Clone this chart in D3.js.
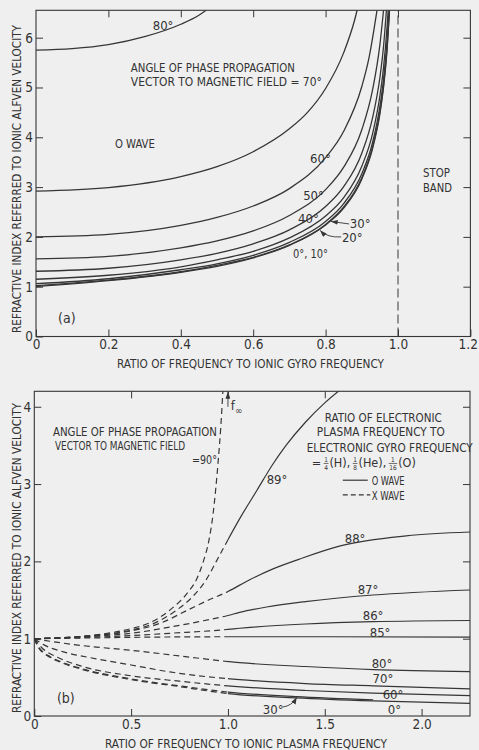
<!DOCTYPE html>
<html>
<head>
<meta charset="utf-8">
<script src="https://cdn.jsdelivr.net/npm/d3@7"></script>
<style>
  html, body { margin: 0; padding: 0; background: #efefef; }
  svg { display: block; }
  text { font-family: "Liberation Sans Narrow", "DejaVu Sans Condensed", "Arial Narrow", sans-serif; fill: #333; }
</style>
</head>
<body>
<svg id="fig" width="479" height="750"></svg>
<script>
// ---------- Panel (a): O wave, refractive index vs f / f_gyro(ion) ----------
const ticksAx = [0, 0.2, 0.4, 0.6, 0.8, 1.0, 1.2];
const ticksAy = [0, 1, 2, 3, 4, 5, 6];
const stopBandAt = 1.0;

const oWave0  = [[0,1.00],[0.2,1.12],[0.4,1.29],[0.5,1.41],[0.6,1.58],[0.7,1.83],[0.8,2.24],[0.85,2.58],[0.9,3.16],[0.93,3.78],[0.95,4.47],[0.96,5.00],[0.97,5.77],[0.977,6.60]];
const oWave10 = [[0,1.02],[0.2,1.13],[0.4,1.30],[0.5,1.43],[0.6,1.59],[0.7,1.84],[0.8,2.25],[0.85,2.60],[0.9,3.19],[0.93,3.81],[0.95,4.51],[0.96,5.04],[0.97,5.82],[0.976,6.50]];
const oWave20 = [[0,1.06],[0.2,1.16],[0.4,1.34],[0.5,1.46],[0.6,1.63],[0.7,1.89],[0.8,2.31],[0.85,2.67],[0.9,3.27],[0.93,3.90],[0.95,4.62],[0.96,5.16],[0.97,5.96],[0.975,6.53]];
const oWave30 = [[0,1.15],[0.2,1.23],[0.4,1.40],[0.5,1.54],[0.6,1.71],[0.7,1.98],[0.8,2.42],[0.85,2.79],[0.9,3.42],[0.93,4.08],[0.95,4.83],[0.96,5.40],[0.97,6.24],[0.973,6.57]];
const oWave40 = [[0,1.31],[0.2,1.37],[0.4,1.54],[0.5,1.67],[0.6,1.86],[0.7,2.14],[0.8,2.61],[0.85,3.01],[0.9,3.68],[0.93,4.40],[0.95,5.20],[0.96,5.82],[0.968,6.55]];
const oWave50 = [[0,1.56],[0.2,1.61],[0.4,1.78],[0.5,1.92],[0.6,2.12],[0.7,2.43],[0.8,2.95],[0.85,3.40],[0.9,4.15],[0.93,4.96],[0.95,5.86],[0.96,6.55]];
const oWave60 = [[0,2.00],[0.2,2.05],[0.4,2.23],[0.5,2.39],[0.6,2.62],[0.7,2.97],[0.8,3.59],[0.85,4.12],[0.9,5.02],[0.92,5.60],[0.942,6.55]];
const oWave70 = [[0,2.92],[0.2,2.99],[0.4,3.21],[0.5,3.41],[0.6,3.71],[0.7,4.17],[0.75,4.50],[0.8,4.98],[0.85,5.70],[0.88,6.35],[0.887,6.55]];
const oWave80 = [[0,5.75],[0.1,5.78],[0.2,5.86],[0.3,6.02],[0.4,6.27],[0.45,6.45],[0.47,6.55]];
const curvesA = [oWave0, oWave10, oWave20, oWave30, oWave40, oWave50, oWave60, oWave70, oWave80];

// ---------- Panel (b): refractive index vs f / f_plasma(ion) ----------
const ticksBx = [0, 0.5, 1.0, 1.5, 2.0];
const ticksBy = [0, 1, 2, 3, 4];
const modeSplit = 1.0;   // X wave (dashed) below, O wave (solid) above

const wave90 = [[0,1],[0.2,1.02],[0.35,1.06],[0.5,1.13],[0.6,1.21],[0.7,1.37],[0.79,1.59],[0.84,1.78],[0.873,2.0],[0.9,2.25],[0.924,2.63],[0.95,3.31],[0.962,3.70],[0.975,4.25]];
const wave89 = [[0,1],[0.2,1.02],[0.35,1.05],[0.5,1.11],[0.6,1.18],[0.735,1.37],[0.82,1.55],[0.887,1.76],[0.94,2.0],[1.0,2.28],[1.06,2.55],[1.15,2.92],[1.23,3.25],[1.3,3.50],[1.4,3.80],[1.5,4.05],[1.6,4.26]];
const wave88 = [[0,1],[0.3,1.04],[0.5,1.10],[0.65,1.20],[0.8,1.38],[0.9,1.50],[1.0,1.61],[1.11,1.76],[1.23,1.90],[1.37,2.03],[1.58,2.20],[1.92,2.33],[2.25,2.38]];
const wave87 = [[0,1],[0.3,1.03],[0.5,1.07],[0.7,1.15],[0.85,1.22],[1.0,1.30],[1.06,1.34],[1.2,1.41],[1.4,1.48],[1.75,1.565],[2.25,1.63]];
const wave86 = [[0,1],[0.3,1.02],[0.5,1.04],[0.7,1.07],[1.0,1.12],[1.06,1.135],[1.4,1.19],[1.75,1.22],[2.25,1.235]];
const wave85 = [[0,1],[0.3,1.01],[0.6,1.02],[1.0,1.025],[1.5,1.025],[2.25,1.02]];
const wave80 = [[0,1],[0.1,0.96],[0.25,0.91],[0.5,0.85],[0.84,0.75],[1.06,0.69],[1.4,0.64],[1.75,0.60],[2.25,0.573]];
const wave70 = [[0,1],[0.05,0.92],[0.15,0.83],[0.32,0.74],[0.5,0.66],[0.7,0.57],[0.85,0.52],[1.06,0.47],[1.4,0.42],[1.75,0.39],[2.25,0.35]];
const wave60 = [[0,1],[0.04,0.88],[0.12,0.76],[0.25,0.64],[0.5,0.52],[0.75,0.45],[1.0,0.39],[1.4,0.33],[1.75,0.295],[2.25,0.263]];
const wave30 = [[0,1],[0.02,0.90],[0.05,0.82],[0.08,0.77],[0.15,0.69],[0.25,0.61],[0.5,0.48],[0.75,0.39],[1.0,0.31],[1.35,0.25],[1.75,0.21]];
const wave0  = [[0,1],[0.02,0.89],[0.05,0.81],[0.08,0.76],[0.15,0.68],[0.25,0.60],[0.5,0.47],[0.75,0.38],[1.0,0.29],[1.35,0.235],[1.75,0.195],[2.25,0.164]];
const curvesB = [wave89, wave88, wave87, wave86, wave85, wave80, wave70, wave60, wave30, wave0];

const yTitle = "REFRACTIVE INDEX REFERRED TO IONIC ALFVEN VELOCITY";

// ---------- drawing ----------
const ink = "#363636";
const svg = d3.select("#fig");
svg.append("rect").attr("width", 479).attr("height", 750).attr("fill", "#efefef");
const defs = svg.append("defs");
defs.append("marker").attr("id", "arrow").attr("viewBox", "0 0 8 6")
  .attr("refX", 8).attr("refY", 3).attr("markerWidth", 7).attr("markerHeight", 5)
  .attr("orient", "auto").attr("markerUnits", "userSpaceOnUse")
  .append("path").attr("d", "M0,0 L8,3 L0,6 Z").attr("fill", ink);

const xa = d3.scaleLinear().domain([0, 1.2]).range([36, 470.4]);
const ya = d3.scaleLinear().domain([0, 6.55]).range([336.5, 10.3]);
const xb = d3.scaleLinear().domain([0, 2.25]).range([34.3, 470]);
const yb = d3.scaleLinear().domain([0, 4.2]).range([716, 391.3]);

function clip(id, x0, x1, y0, y1) {
  defs.append("clipPath").attr("id", id).append("rect")
    .attr("x", x0).attr("y", y1).attr("width", x1 - x0).attr("height", y0 - y1);
}

function frame(x, y, xt, yt, xfmt) {
  const g = svg.append("g");
  const [x0, x1] = x.range(), [y0, y1] = y.range();
  const style = s => s.call(a => a.select(".domain").remove())
    .call(a => a.selectAll("line").attr("stroke", ink).attr("stroke-width", 1))
    .call(a => a.selectAll("text").attr("font-family", null).attr("font-size", 13.5).attr("fill", "#333"));
  const bottom = g.append("g").attr("transform", `translate(0,${y0})`)
    .call(d3.axisBottom(x).tickValues(xt).tickSize(-7).tickSizeOuter(0).tickPadding(3).tickFormat(xfmt)).call(style);
  g.append("g").attr("transform", `translate(0,${y1})`)
    .call(d3.axisTop(x).tickValues(xt.slice(1, -1)).tickSize(-7).tickSizeOuter(0).tickFormat("")).call(style);
  g.append("g").attr("transform", `translate(${x0},0)`)
    .call(d3.axisLeft(y).tickValues(yt).tickSize(-7).tickSizeOuter(0).tickPadding(3).tickFormat(d3.format("d"))).call(style);
  g.append("g").attr("transform", `translate(${x1},0)`)
    .call(d3.axisRight(y).tickValues(yt.slice(1)).tickSize(-7).tickSizeOuter(0).tickFormat("")).call(style);
  g.append("rect").attr("x", x0).attr("y", y1).attr("width", x1 - x0).attr("height", y0 - y1)
    .attr("fill", "none").attr("stroke", ink).attr("stroke-width", 1.1);
  return bottom;
}

function label(txt, px, py, size, len, anchor) {
  const t = svg.append("text").attr("x", px).attr("y", py).attr("font-size", size)
    .attr("text-anchor", anchor || "start").text(txt);
  if (len) t.attr("textLength", len).attr("lengthAdjust", "spacingAndGlyphs");
  return t;
}

function yAxisTitle(cx, cy, len) {
  svg.append("text").attr("transform", `translate(${cx},${cy}) rotate(-90)`)
    .attr("text-anchor", "middle").attr("font-size", 12.5)
    .attr("textLength", len).attr("lengthAdjust", "spacingAndGlyphs").text(yTitle);
}

// ----- panel (a) -----
clip("clipA", xa(0), xa(1.2), ya(0), ya(6.55));
const bottomA = frame(xa, ya, ticksAx, ticksAy, d => d === 0 ? "0" : d3.format(".1f")(d));
bottomA.selectAll(".tick text").filter(d => d === 1.2).attr("text-anchor", "end").attr("dx", 7);
const lineA = d3.line().x(d => xa(d[0])).y(d => ya(d[1])).curve(d3.curveMonotoneX);
svg.append("g").attr("clip-path", "url(#clipA)").selectAll("path").data(curvesA).join("path")
  .attr("d", lineA).attr("fill", "none").attr("stroke", ink).attr("stroke-width", 1.3);
svg.append("line").attr("x1", xa(stopBandAt)).attr("x2", xa(stopBandAt))
  .attr("y1", ya(0)).attr("y2", ya(6.55)).attr("stroke", ink).attr("stroke-width", 1)
  .attr("stroke-dasharray", "9,4");

label("80°", xa(0.351), ya(6.16), 13, null, "middle");
label("ANGLE OF PHASE PROPAGATION", xa(0.262), ya(5.31), 12.5, 164);
label("VECTOR TO MAGNETIC FIELD = 70°", xa(0.262), ya(5.03), 12.5, 191);
label("O WAVE", xa(0.218), ya(3.79), 13, 40);
label("60°", xa(0.757), ya(3.48), 13);
label("50°", xa(0.738), ya(2.74), 13);
label("40°", xa(0.724), ya(2.28), 13);
label("30°", xa(0.867), ya(2.18), 13);
label("20°", xa(0.845), ya(1.90), 13);
label("0°, 10°", xa(0.71), ya(1.58), 13, 35);
label("STOP", xa(1.069), ya(3.2), 13, 27);
label("BAND", xa(1.069), ya(2.9), 13, 29);
label("(a)", xa(0.061), ya(0.27), 14);
svg.append("path")
  .attr("d", `M${xa(0.865)},${ya(2.26)} L${xa(0.815)},${ya(2.31)}`)
  .attr("fill", "none").attr("stroke", ink).attr("stroke-width", 0.9).attr("marker-end", "url(#arrow)");
svg.append("path")
  .attr("d", `M${xa(0.843)},${ya(2.0)} Q${xa(0.805)},${ya(1.98)} ${xa(0.785)},${ya(2.13)}`)
  .attr("fill", "none").attr("stroke", ink).attr("stroke-width", 0.9).attr("marker-end", "url(#arrow)");
label("RATIO OF FREQUENCY TO IONIC GYRO FREQUENCY", 117, 368, 13, 267);
yAxisTitle(21, 179, 308);

// ----- panel (b) -----
clip("clipBdash", xb(0), xb(modeSplit), yb(0), yb(4.2));
clip("clipBsolid", xb(modeSplit), xb(2.25), yb(0), yb(4.2));
frame(xb, yb, ticksBx, ticksBy, d => d === 0 ? "0" : d3.format(".1f")(d));
const lineB = d3.line().x(d => xb(d[0])).y(d => yb(d[1])).curve(d3.curveMonotoneX);
svg.append("g").attr("clip-path", "url(#clipBdash)").selectAll("path").data(curvesB.concat([wave90])).join("path")
  .attr("d", lineB).attr("fill", "none").attr("stroke", ink).attr("stroke-width", 1.2)
  .attr("stroke-dasharray", "6,4");
svg.append("g").attr("clip-path", "url(#clipBsolid)").selectAll("path").data(curvesB).join("path")
  .attr("d", lineB).attr("fill", "none").attr("stroke", ink).attr("stroke-width", 1.2);

// resonance marker f∞
svg.append("line").attr("x1", xb(1.0)).attr("x2", xb(1.0)).attr("y1", yb(4.0)).attr("y2", yb(4.19))
  .attr("stroke", ink).attr("stroke-width", 0.9).attr("marker-end", "url(#arrow)");
const finf = svg.append("text").attr("x", xb(1.015)).attr("y", yb(3.96)).attr("font-size", 13);
finf.append("tspan").text("f");
finf.append("tspan").attr("dy", 4).attr("font-size", 10).text("∞");

label("ANGLE OF PHASE PROPAGATION", xb(0.0965), yb(3.627), 11.5, 164);
label("VECTOR TO MAGNETIC FIELD", xb(0.107), yb(3.44), 11.5, 130);
label("=90°", xb(0.814), yb(3.26), 12.5, 25);
label("RATIO OF ELECTRONIC", xb(1.5), yb(3.80), 12, 117);
label("PLASMA FREQUENCY TO", xb(1.459), yb(3.62), 12, 128);
label("ELECTRONIC GYRO FREQUENCY", xb(1.407), yb(3.42), 12, 166);

// "= 1/4 (H), 1/8 (He), 1/16 (O)" with stacked fractions
(function () {
  const g = svg.append("g");
  let cx = xb(1.433);
  const base = yb(3.22);
  const parts = [["t", "="], ["f", "1", "4"], ["t", "(H),"], ["f", "1", "8"], ["t", "(He),"], ["f", "1", "16"], ["t", "(O)"]];
  parts.forEach(p => {
    if (p[0] === "t") {
      const t = g.append("text").attr("x", cx).attr("y", base).attr("font-size", 12.5).text(p[1]);
      cx += t.node().getComputedTextLength() + 3;
    } else {
      const n = g.append("text").attr("x", cx).attr("y", base - 5).attr("font-size", 6.5).text(p[1]);
      const d = g.append("text").attr("x", cx).attr("y", base + 3).attr("font-size", 6.5).text(p[2]);
      const w = Math.max(n.node().getComputedTextLength(), d.node().getComputedTextLength());
      n.attr("x", cx + (w - n.node().getComputedTextLength()) / 2);
      d.attr("x", cx + (w - d.node().getComputedTextLength()) / 2);
      g.append("line").attr("x1", cx - 0.5).attr("x2", cx + w + 0.5).attr("y1", base - 3.6).attr("y2", base - 3.6)
        .attr("stroke", ink).attr("stroke-width", 0.7);
      cx += w + 1.5;
    }
  });
})();

// legend
svg.append("line").attr("x1", xb(1.593)).attr("x2", xb(1.722)).attr("y1", yb(3.05)).attr("y2", yb(3.05))
  .attr("stroke", ink).attr("stroke-width", 1.2);
svg.append("line").attr("x1", xb(1.593)).attr("x2", xb(1.735)).attr("y1", yb(2.86)).attr("y2", yb(2.86))
  .attr("stroke", ink).attr("stroke-width", 1.2).attr("stroke-dasharray", "5,3");
label("O WAVE", xb(1.742), yb(2.99), 12.5, 33);
label("X WAVE", xb(1.742), yb(2.79), 12.5, 33);

label("89°", xb(1.2), yb(3.0), 13);
label("88°", xb(1.603), yb(2.24), 13);
label("87°", xb(1.67), yb(1.58), 13);
label("86°", xb(1.696), yb(1.24), 13);
label("85°", xb(1.732), yb(1.02), 13);
label("80°", xb(1.742), yb(0.62), 13);
label("70°", xb(1.747), yb(0.427), 13);
label("60°", xb(1.799), yb(0.22), 13);
label("0°", xb(1.825), yb(0.026), 13);
label("30°", xb(1.18), yb(0.026), 13);
label("(b)", xb(0.117), yb(0.168), 14);
svg.append("path")
  .attr("d", `M${xb(1.283)},${yb(0.116)} Q${xb(1.33)},${yb(0.13)} ${xb(1.355)},${yb(0.24)}`)
  .attr("fill", "none").attr("stroke", ink).attr("stroke-width", 0.9).attr("marker-end", "url(#arrow)");

label("RATIO OF FREQUENCY TO IONIC PLASMA FREQUENCY", 105, 748, 13, 282);
yAxisTitle(21, 558, 310);
</script>
</body>
</html>
